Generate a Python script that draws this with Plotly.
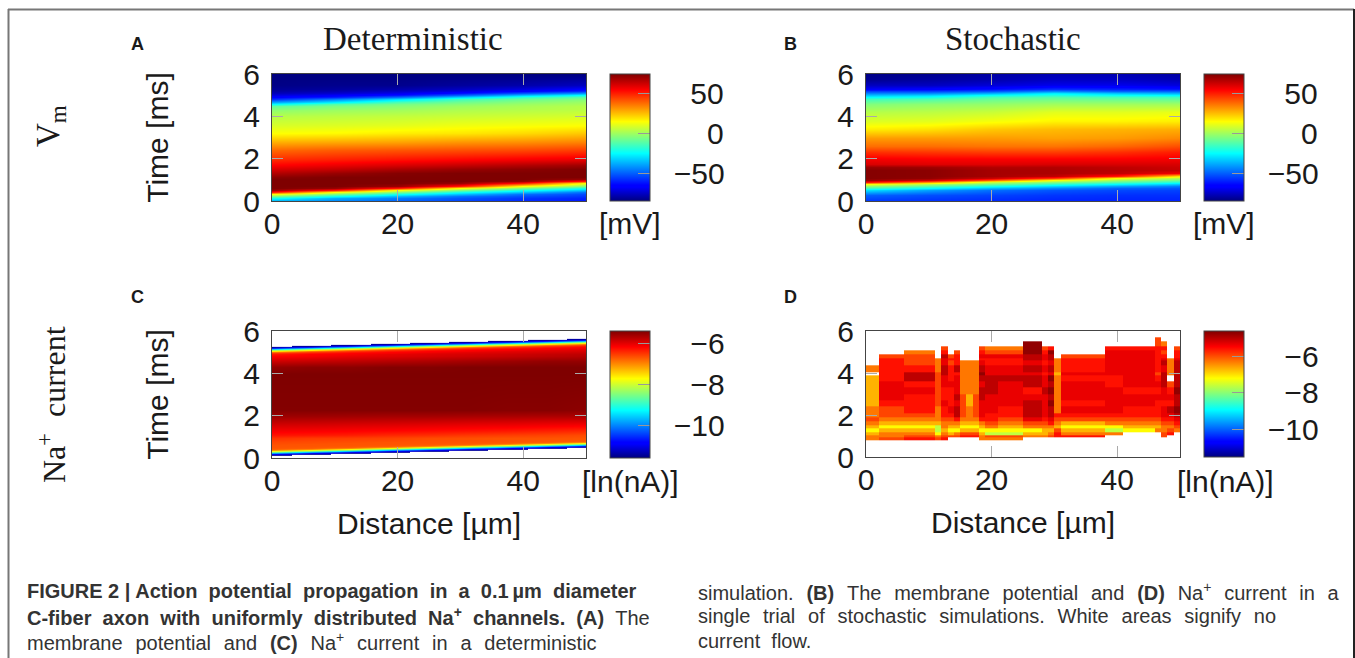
import plotly.graph_objects as go

W, H = 1355, 658
N = None

jet = [[0, "#00007f"], [0.11, "#0000ff"], [0.125, "#0000ff"], [0.375, "#00ffff"], [0.5, "#7fff7f"],
       [0.625, "#ffff00"], [0.875, "#ff0000"], [1, "#7f0000"]]

# ---------- Panel A : membrane potential, deterministic [mV]
a_x = [0, 10, 20, 30, 40, 50]
a_t = [0, .13, .23, .33, .43, .53, .63, .73, .83, .93, 1.03, 1.13, 1.3, 1.5, 1.7, 2.0, 2.4, 2.8, 3.2, 3.6, 4.0, 4.3,
       4.5, 4.6, 4.7, 4.8, 4.9, 5.0, 5.1, 5.2, 5.3, 5.5, 6]
a_z = [
    [-40, -45, -50, -55, -59, -62],
    [-22, -38, -46, -52, -57, -60],
    [-5, -22, -36, -47, -53, -57],
    [14, -5, -22, -35, -48, -54],
    [50, 14, -5, -22, -35, -48],
    [70, 50, 14, -5, -22, -35],
    [74, 70, 50, 14, -5, -22],
    [74, 74, 70, 50, 14, -5],
    [74, 74, 74, 70, 50, 14],
    [74, 74, 74, 74, 70, 50],
    [74, 74, 74, 74, 74, 70],
    [72, 74, 74, 74, 74, 74],
    [66, 70, 73, 74, 74, 74],
    [60, 63, 67, 70, 72, 74],
    [54, 57, 60, 63, 66, 69],
    [47, 49, 51, 53, 55, 57],
    [38, 40, 41, 42, 43, 45],
    [27, 28, 29, 31, 32, 34],
    [14, 15, 17, 18, 20, 23],
    [8, 9, 10, 12, 13, 14],
    [3, 4, 5, 6, 7, 8],
    [-3, -1, 0, 2, 3, 4],
    [-10, -6, -4, -1, 1, 3],
    [-25, -12, -7, -4, -1, 1],
    [-40, -28, -14, -8, -4, -1],
    [-58, -45, -30, -15, -9, -5],
    [-66, -60, -48, -32, -18, -11],
    [-72, -68, -62, -50, -35, -24],
    [-77, -74, -70, -63, -52, -42],
    [-80, -78, -75, -71, -65, -58],
    [-82, -81, -79, -76, -72, -67],
    [-84, -83, -83, -81, -79, -76],
    [-85, -85, -85, -85, -85, -85],
]

# ---------- Panel B : membrane potential, stochastic [mV]
b_x = [0, 10, 20, 30, 40, 50]
b_t = [0, .3, .5, .6, .7, .8, .9, 1.0, 1.1, 1.2, 1.3, 1.45, 1.6, 1.75, 2.0, 2.3, 2.6, 3.0, 3.4, 3.8, 4.2, 4.6, 4.8,
       4.9, 5.0, 5.1, 5.2, 5.3, 5.5, 5.7, 6]
b_z = [
    [-57, -58, -59, -60, -60, -60],
    [-50, -53, -55, -57, -58, -58],
    [-30, -40, -48, -52, -54, -55],
    [-15, -25, -36, -44, -50, -52],
    [-2, -12, -22, -32, -40, -46],
    [14, 2, -8, -18, -26, -34],
    [52, 32, 6, -4, -12, -20],
    [70, 62, 40, 14, 0, -8],
    [73, 71, 62, 46, 14, 2],
    [73, 72, 68, 64, 50, 18],
    [73, 72, 68, 67, 64, 56],
    [73, 72, 68, 67, 65, 63],
    [70, 69, 66, 66, 64, 62],
    [60, 59, 59, 60, 60, 60],
    [56, 55, 55, 55, 55, 56],
    [47, 46, 45, 45, 47, 50],
    [37, 37, 36, 36, 38, 42],
    [30, 30, 30, 29, 30, 33],
    [17, 19, 23, 25, 26, 27],
    [9, 10, 13, 16, 16, 17],
    [3, 4, 6, 10, 10, 11],
    [-5, -3, -2, 0, 0, 0],
    [-15, -13, -9, -8, -9, -10],
    [-25, -22, -14, -12, -14, -15],
    [-35, -32, -24, -20, -24, -26],
    [-45, -44, -38, -28, -35, -38],
    [-55, -55, -52, -44, -50, -50],
    [-68, -66, -63, -58, -60, -62],
    [-76, -76, -73, -70, -70, -72],
    [-82, -80, -78, -75, -75, -77],
    [-84, -83, -80, -78, -78, -80],
]

# ---------- Panel C : Na+ current, deterministic [ln(nA)]
c_x = [0, 6.25, 12.5, 18.75, 25, 31.25, 37.5, 43.75, 50]
c_t = [.08, .13, .18, .23, .28, .33, .38, .43, .48, .53, .58, .63, .68, .73, .78, .83, .93, 1.1, 1.3, 1.6, 2.0, 2.3,
       4.0, 4.3, 4.6, 4.85, 4.9, 4.95, 5.0, 5.05, 5.1, 5.15, 5.2, 5.25, 5.3, 5.35, 5.4, 5.45, 5.5, 5.55, 5.6,
       5.65, 5.7]
c_z = [
    [N, N, N, N, N, N, N, N, N],
    [-11.4, N, N, N, N, N, N, N, N],
    [-10.7, -11.4, N, N, N, N, N, N, N],
    [-9.6, -10.7, -11.4, N, N, N, N, N, N],
    [-8.4, -9.6, -10.7, -11.4, N, N, N, N, N],
    [-7.7, -8.4, -9.6, -10.7, -11.4, N, N, N, N],
    [-6.9, -7.7, -8.4, -9.6, -10.7, -11.4, N, N, N],
    [-6.7, -6.9, -7.7, -8.4, -9.6, -10.7, -11.4, N, N],
    [-6.68, -6.7, -6.9, -7.7, -8.4, -9.6, -10.7, -11.4, N],
    [-6.66, -6.68, -6.7, -6.9, -7.7, -8.4, -9.6, -10.7, -11.4],
    [-6.65, -6.66, -6.68, -6.7, -6.9, -7.7, -8.4, -9.6, -10.7],
    [-6.65, -6.65, -6.66, -6.68, -6.7, -6.9, -7.7, -8.4, -9.6],
    [-6.62, -6.65, -6.65, -6.66, -6.68, -6.7, -6.9, -7.7, -8.4],
    [-6.6, -6.62, -6.65, -6.65, -6.66, -6.68, -6.7, -6.9, -7.7],
    [-6.58, -6.6, -6.62, -6.65, -6.65, -6.66, -6.68, -6.7, -6.9],
    [-6.55, -6.58, -6.6, -6.62, -6.65, -6.65, -6.66, -6.68, -6.7],
    [-6.45, -6.5, -6.52, -6.55, -6.6, -6.62, -6.65, -6.65, -6.66],
    [-6.25, -6.28, -6.32, -6.38, -6.42, -6.48, -6.52, -6.55, -6.6],
    [-6.1, -6.12, -6.15, -6.18, -6.22, -6.26, -6.3, -6.35, -6.4],
    [-5.85, -5.87, -5.9, -5.92, -5.95, -5.98, -6.0, -6.03, -6.05],
    [-5.55, -5.56, -5.58, -5.6, -5.6, -5.62, -5.63, -5.65, -5.65],
    [-5.4, -5.4, -5.4, -5.4, -5.4, -5.4, -5.42, -5.42, -5.45],
    [-5.37, -5.37, -5.37, -5.37, -5.37, -5.37, -5.37, -5.37, -5.37],
    [-5.5, -5.45, -5.45, -5.4, -5.4, -5.37, -5.37, -5.37, -5.37],
    [-5.85, -5.8, -5.75, -5.7, -5.65, -5.6, -5.55, -5.5, -5.5],
    [-6.15, -6.1, -6.0, -5.95, -5.9, -5.85, -5.8, -5.75, -5.7],
    [-6.3, -6.15, -6.1, -6.0, -5.95, -5.9, -5.85, -5.8, -5.75],
    [-6.5, -6.3, -6.15, -6.1, -6.0, -5.95, -5.9, -5.85, -5.8],
    [-6.9, -6.5, -6.3, -6.15, -6.1, -6.0, -5.95, -5.9, -5.85],
    [-7.7, -6.9, -6.5, -6.3, -6.15, -6.1, -6.0, -5.95, -5.9],
    [-8.4, -7.7, -6.9, -6.5, -6.3, -6.15, -6.1, -6.0, -5.95],
    [-9.6, -8.4, -7.7, -6.9, -6.5, -6.3, -6.15, -6.1, -6.0],
    [-10.7, -9.6, -8.4, -7.7, -6.9, -6.5, -6.3, -6.15, -6.1],
    [-11.4, -10.7, -9.6, -8.4, -7.7, -6.9, -6.5, -6.3, -6.15],
    [N, -11.4, -10.7, -9.6, -8.4, -7.7, -6.9, -6.5, -6.3],
    [N, N, -11.4, -10.7, -9.6, -8.4, -7.7, -6.9, -6.5],
    [N, N, N, -11.4, -10.7, -9.6, -8.4, -7.7, -6.9],
    [N, N, N, N, -11.4, -10.7, -9.6, -8.4, -7.7],
    [N, N, N, N, N, -11.4, -10.7, -9.6, -8.4],
    [N, N, N, N, N, N, -11.4, -10.7, -9.6],
    [N, N, N, N, N, N, N, -11.4, -10.7],
    [N, N, N, N, N, N, N, N, -11.4],
    [N, N, N, N, N, N, N, N, N],
]

# ---------- Panel D : Na+ current, stochastic [ln(nA)]; blocks read per column (value levels below)
G, Y, A, O, E, R, S, T, U = -7.65, -7.2, -6.7, -6.3, -5.95, -5.6, -5.35, -5.05, -4.75
d_x = [0, 2, 6, 11, 12, 13, 14, 15, 16, 17, 18, 19, 21, 25, 28, 29, 30, 31, 38, 41, 46, 47, 48, 49, 50]
d_t = [.8, .95, 1.05, 1.2, 1.35, 1.5, 1.7, 1.9, 2.1, 2.4, 2.7, 3.0, 3.3, 3.6, 3.9, 4.05, 4.35, 4.6, 4.7, 4.9, 5.1,
       5.25, 5.5, 5.7]
d_cols = [
    [O, O, A, Y, A, O, E, O, O, A, A, A, A, A, N, O, N, N, N, N, N, N, N],
    [E, O, O, A, Y, A, O, E, E, R, S, S, S, R, R, R, R, R, E, N, N, N, N],
    [R, E, O, A, Y, A, O, E, R, R, R, S, R, T, T, R, E, E, E, O, N, N, N],
    [E, O, Y, G, G, A, O, O, O, E, E, E, E, E, E, O, O, O, N, N, N, N, N],
    [R, E, O, A, O, O, E, R, R, S, R, R, S, S, T, T, S, S, T, R, E, N, N],
    [N, E, A, Y, A, O, E, R, S, R, R, R, S, R, R, R, E, R, E, N, N, N, N],
    [N, E, O, Y, A, O, R, T, T, S, T, S, S, S, R, T, R, R, R, E, N, N, N],
    [N, R, E, A, Y, A, O, E, E, E, E, O, O, O, O, O, O, N, N, N, N, N, N],
    [N, R, E, A, Y, A, O, O, O, A, A, O, O, O, O, O, O, N, N, N, N, N, N],
    [N, R, E, A, Y, A, O, E, E, E, E, O, O, O, O, O, O, N, N, N, N, N, N],
    [O, O, A, Y, A, O, R, S, S, S, T, T, S, T, U, T, S, R, S, R, E, N, N],
    [O, E, G, Y, O, E, R, R, S, S, S, T, T, T, S, S, R, R, S, E, O, N, N],
    [O, E, G, Y, A, O, E, R, R, S, S, S, S, T, S, S, R, R, S, E, O, N, N],
    [N, O, A, Y, O, E, S, T, T, T, S, R, T, T, S, T, S, T, T, U, U, U, N],
    [N, O, A, A, O, E, R, S, S, S, S, T, S, S, R, S, R, S, S, R, E, N, N],
    [N, E, O, A, O, R, S, T, T, U, T, U, T, U, S, T, S, T, T, U, R, N, N],
    [N, R, R, E, A, O, E, R, O, O, O, O, O, O, A, O, O, O, N, N, N, N, N],
    [N, R, O, A, Y, A, E, R, S, R, S, S, S, R, S, R, R, R, E, N, N, N, N],
    [N, N, O, G, Y, O, E, R, S, S, S, S, R, R, S, S, S, S, S, S, R, N, N],
    [N, N, N, Y, A, O, E, R, R, S, S, R, S, S, S, S, S, S, S, S, R, N, N],
    [N, N, N, O, A, O, E, R, R, R, S, R, S, R, E, R, R, R, R, R, R, E, E],
    [N, E, E, O, O, E, R, S, S, R, S, S, T, T, T, S, T, S, R, E, R, O, N],
    [N, N, R, E, O, E, R, S, T, R, S, R, E, N, O, O, O, O, N, N, N, N, N],
    [N, N, N, O, E, R, S, T, U, T, T, U, T, T, T, T, T, S, R, R, E, N, N],
]
assert all(len(c) == len(d_t) - 1 for c in d_cols) and len(d_cols) == len(d_x) - 1

# ---------- text
time_label = "Time [ms]"
dist_label = "Distance [µm]"
x_ticks = [0, 20, 40]
y_ticks = [0, 2, 4, 6]
mv_ticks = [50, 0, -50]
ln_ticks = [-6, -8, -10]

FONT = "Liberation Sans"
SERIF = "Liberation Serif"
TXT = "#1a1a1a"
TICK = 30


def px_x(x):
    return x / W


def px_y(y):
    return 1 - y / H


def cb_labels(ticks, width):
    out = []
    for t in ticks:
        s = ("\u2212" if t < 0 else "") + str(abs(t))
        out.append("\u2007" * (width - len(s) + 1) + s)
    return out


panels = [
    dict(x=a_x, y=a_t, z=a_z, rng=(-85, 74), box=(272, 586, 74, 201), cb=(610, 74, 127), ticks=mv_ticks, tw=3,
         smooth="best", ytitle=True, xtitle=False, unit="[mV]", ux=630),
    dict(x=b_x, y=b_t, z=b_z, rng=(-85, 74), box=(866, 1180, 74, 201), cb=(1204, 74, 127), ticks=mv_ticks, tw=3,
         smooth="best", ytitle=False, xtitle=False, unit="[mV]", ux=1224),
    dict(x=c_x, y=c_t, z=c_z, rng=(-11.56, -5.37), box=(272, 586, 331, 458), cb=(610, 331, 127), ticks=ln_ticks, tw=3,
         smooth="best", ytitle=True, xtitle=True, unit="[ln(nA)]", ux=630),
    dict(x=d_x, y=d_t, z=d_cols, rng=(-11.53, -4.63), box=(866, 1180, 331, 457), cb=(1204, 331, 126), ticks=ln_ticks,
         tw=3, smooth=False, ytitle=False, xtitle=True, unit="[ln(nA)]", ux=1225, transpose=True),
]

fig = go.Figure()
layout = {}
annos = []
for i, p in enumerate(panels, start=1):
    x0, x1, y0, y1 = p["box"]
    xn, yn = f"x{i}", f"y{i}"
    cbx, cby, cbl = p["cb"]
    fig.add_trace(go.Heatmap(
        x=p["x"], y=p["y"], z=p["z"], xaxis=xn, yaxis=yn, zmin=p["rng"][0], zmax=p["rng"][1],
        colorscale=jet, zsmooth=p["smooth"], transpose=p.get("transpose", False), hoverongaps=False,
        colorbar=dict(
            x=px_x(cbx), xanchor="left", xpad=0, y=px_y(cby), yanchor="top", ypad=0,
            len=cbl, lenmode="pixels", thickness=40, thicknessmode="pixels",
            outlinecolor="#444", outlinewidth=1, borderwidth=0,
            ticks="inside", ticklen=12, tickcolor="#999", tickwidth=1,
            tickmode="array", tickvals=p["ticks"], ticktext=cb_labels(p["ticks"], p["tw"]),
            tickfont=dict(family=FONT, size=TICK, color=TXT),
        ),
    ))
    layout[f"xaxis{i}"] = dict(
        domain=[px_x(x0), px_x(x1)], anchor=yn, range=[0, 50], tickmode="array", tickvals=x_ticks,
        ticks="inside", ticklen=11, tickcolor="#aaa", tickwidth=1, mirror="allticks", showline=True,
        linecolor="#444", linewidth=1, showgrid=False, zeroline=False, automargin=False,
        tickfont=dict(family=FONT, size=TICK, color=TXT), ticklabelstandoff=-4,
        title=dict(text=dist_label if p["xtitle"] else "", font=dict(family=FONT, size=TICK, color=TXT), standoff=16),
    )
    layout[f"yaxis{i}"] = dict(
        domain=[px_y(y1), px_y(y0)], anchor=xn, range=[0, 6], tickmode="array", tickvals=y_ticks,
        ticks="inside", ticklen=11, tickcolor="#aaa", tickwidth=1, mirror="allticks", showline=True,
        linecolor="#444", linewidth=1, showgrid=False, zeroline=False, automargin=False,
        tickfont=dict(family=FONT, size=TICK, color=TXT), ticklabelstandoff=5,
        title=dict(text=time_label if p["ytitle"] else "", font=dict(family=FONT, size=TICK, color=TXT), standoff=65),
    )
    uy = 223 if i < 3 else 481
    annos.append(dict(text=p["unit"], x=px_x(p["ux"]), y=px_y(uy), xanchor="center",
                      font=dict(family=FONT, size=TICK, color=TXT)))


def note(text, x, y, size, family=FONT, anchor="center", color=TXT, angle=0):
    annos.append(dict(text=text, x=px_x(x), y=px_y(y), xanchor=anchor, textangle=angle,
                      font=dict(family=family, size=size, color=color)))


note("Deterministic", 413, 39, 33, SERIF)
note("Stochastic", 1013, 39, 33, SERIF)
for letter, lx, ly in [("A", 137, 44), ("B", 790, 44), ("C", 137, 297), ("D", 790, 297)]:
    note(f"<b>{letter}</b>", lx, ly, 18)
note("V<sub>m</sub>", 51, 126, 33, SERIF, angle=-90)
note("Na<sup>+</sup>\u00a0\u00a0current", 52, 405, 32, SERIF, angle=-90)

S2 = "\u00a0\u00a0"
S3 = S2 + "\u200a"
CAP = "#333333"
CS = 20
note(f"<b>FIGURE 2 | Action{S2}potential{S2}propagation{S2}in{S2}a{S2}0.1\u2009µm{S2}diameter</b>", 25, 591, CS, anchor="left", color=CAP)
note(f"<b>C-fiber{S2}axon{S2}with{S2}uniformly{S2}distributed{S2}Na<sup>+</sup>{S2}channels.{S2}(A)</b>{S2}The", 25, 616, CS, anchor="left", color=CAP)
note(f"membrane{S3}potential{S3}and{S3}<b>(C)</b>{S3}Na<sup>+</sup>{S3}current{S3}in{S3}a{S3}deterministic", 25, 641, CS, anchor="left", color=CAP)
note(f"simulation.{S3}<b>(B)</b>{S3}The{S3}membrane{S3}potential{S3}and{S3}<b>(D)</b>{S3}Na<sup>+</sup>{S3}current{S3}in{S3}a", 696, 591, CS, anchor="left", color=CAP)
note(f"single{S3}trial{S3}of{S3}stochastic{S3}simulations.{S3}White{S3}areas{S3}signify{S3}no", 696, 616, CS, anchor="left", color=CAP)
note(f"current{S2}flow.", 696, 641, CS, anchor="left", color=CAP)

for a in annos:
    a.update(xref="paper", yref="paper", showarrow=False, yanchor="middle")

frame = [
    dict(type="line", xref="paper", yref="paper", x0=px_x(8), x1=px_x(1354), y0=px_y(9.5), y1=px_y(9.5),
         line=dict(color="#777", width=2)),
    dict(type="line", xref="paper", yref="paper", x0=px_x(8.5), x1=px_x(8.5), y0=px_y(9), y1=0,
         line=dict(color="#777", width=2)),
    dict(type="line", xref="paper", yref="paper", x0=px_x(1354), x1=px_x(1354), y0=px_y(9), y1=0,
         line=dict(color="#222", width=2)),
]

fig.update_layout(width=W, height=H, margin=dict(l=0, r=0, t=0, b=0, autoexpand=False), autosize=False,
                  paper_bgcolor="white", plot_bgcolor="white", showlegend=False, annotations=annos, shapes=frame,
                  **layout)
fig.write_html("out.html", config={"displayModeBar": False},
               post_script="document.body.style.margin='0';document.body.style.overflow='hidden';")
